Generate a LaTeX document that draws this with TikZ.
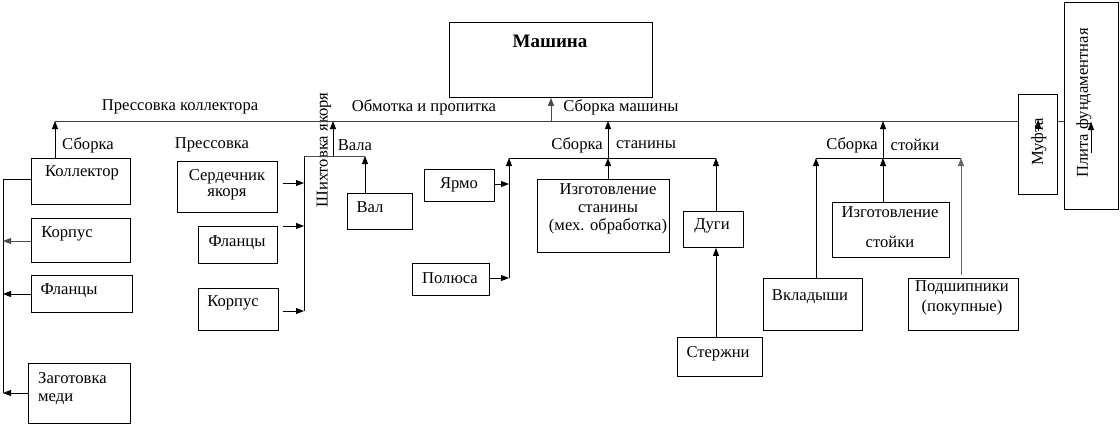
\documentclass[tikz,border=0pt]{standalone}
\usepackage{fontspec}
\setmainfont{Liberation Serif}
\usetikzlibrary{arrows.meta}
\tikzset{
  box/.style={draw, line width=0.9pt},
  txt/.style={inner sep=0pt, font=\fontsize{16.6}{16}\selectfont, align=center},
  conn/.style={line width=0.9pt},
  arr/.style={line width=0.9pt, -{Triangle[length=8pt,width=6pt]}},
}
\begin{document}
\begin{tikzpicture}[x=1pt,y=-1pt]
\useasboundingbox (0,0) rectangle (1120,424);
% boxes
\newcommand{\bx}[5]{\node[box, inner sep=0pt, minimum width=#4-#2, minimum height=#5-#3, anchor=north west] (#1) at (#2,#3) {};}
\bx{mash}{449}{22}{652}{97}
\bx{koll}{31}{158}{130}{204}
\bx{korpA}{31}{218}{130}{262}
\bx{flanA}{31}{275}{132}{312}
\bx{zag}{28}{363}{130}{423}
\bx{serd}{177}{161}{277}{212}
\bx{flanB}{198}{226}{277}{263}
\bx{korpB}{198}{288}{278}{330}
\bx{val}{347}{193}{412}{229}
\bx{yarmo}{424}{169}{494}{201}
\bx{polus}{412}{263}{489}{295}
\bx{izst}{537}{179}{669}{252}
\bx{dugi}{683}{211}{743}{247}
\bx{sterzh}{677}{337}{762}{376}
\bx{izstoy}{832}{202}{949}{257}
\bx{vklad}{763}{278}{862}{330}
\bx{podsh}{908}{278}{1018}{330}
\bx{muft}{1018}{94}{1057}{194}
\bx{plita}{1064}{2}{1118}{209}
% texts in boxes
\node[txt, font=\fontsize{19}{19}\selectfont\bfseries] (tmash) at (550,41) {Машина};
\node[txt] (tkoll) at (82,173) {Коллектор};
\node[txt] (tkorpA) at (67,234) {Корпус};
\node[txt] (tflanA) at (69,291) {Фланцы};
\node[txt, align=left, anchor=west] (tzag) at (38,389) {Заготовка\\[2pt]меди};
\node[txt] (tserd) at (227,185) {Сердечник\\якоря};
\node[txt] (tflanB) at (237,243) {Фланцы};
\node[txt] (tkorpB) at (233,303) {Корпус};
\node[txt] (tval) at (370,207) {Вал};
\node[txt] (tyarmo) at (459,185) {Ярмо};
\node[txt] (tpolus) at (450,278) {Полюса};
\node[txt] (tizst) at (608,209) {Изготовление\\[2pt]станины\\[2pt](мех. обработка)};
\node[txt] (tdugi) at (712,226) {Дуги};
\node[txt] (tsterzh) at (718,354) {Стержни};
\node[txt] (tizstoy) at (890,227) {Изготовление\\[14pt]стойки};
\node[txt] (tvklad) at (810,297) {Вкладыши};
\node[txt] (tpodsh) at (962,298) {Подшипники\\[4pt](покупные)};
\node[txt, rotate=90] (tmuft) at (1039,142) {Муфта};
\node[txt, rotate=90] (tplita) at (1084,103) {Плита фундаментная};
% labels
\node[txt] (lpk) at (180,107) {Прессовка коллектора};
\node[txt] (lop) at (424,107) {Обмотка и пропитка};
\node[txt] (lsm) at (621,107) {Сборка машины};
\node[txt] (lsb) at (88,145) {Сборка};
\node[txt] (lpr) at (212,145) {Прессовка};
\node[txt] (lvala) at (355,145) {Вала};
\node[txt, rotate=90] (lsh) at (324,150) {Шихтовка якоря};
\node[txt] (lsb2) at (577,145) {Сборка};
\node[txt] (lst2) at (646,145) {станины};
\node[txt] (lsb3) at (852,145) {Сборка};
\node[txt] (lst3) at (915,145) {стойки};
% junction coordinates
\coordinate (m0) at (55,121);
\coordinate (m1) at (1018,121);
\coordinate (m2) at (1057,121);
\coordinate (m3) at (1064,121);
\coordinate (mA) at (333,121);
\coordinate (mB) at (551,121);
\coordinate (mC) at (608,121);
\coordinate (mD) at (883,121);
\coordinate (L0) at (3,179);
\coordinate (L1) at (3,241);
\coordinate (L2) at (3,294);
\coordinate (L3) at (3,393);
\coordinate (P0) at (304,156);
\coordinate (P1) at (304,183);
\coordinate (P2) at (304,226);
\coordinate (P3) at (304,311);
\coordinate (P4) at (365,156);
\coordinate (P5) at (333,156);
\coordinate (S0) at (509,158);
\coordinate (S1) at (716,158);
\coordinate (S2) at (608,158);
\coordinate (S3) at (509,184);
\coordinate (S4) at (509,278);
\coordinate (T0) at (816,158);
\coordinate (T1) at (961,158);
\coordinate (T2) at (883,158);
% main line
\draw[conn, black!75] (m0) -- (m1);
\draw[conn, black!75] (m2) -- (m3);
\draw[arr] (koll.north -| m0) -- (m0);
\draw[arr, black!70] (mB) -- (mash.south -| mB);
% collector
\draw[conn] (koll.west |- L0) -- (L0) -- (L3);
\draw[arr, black!70] (korpA.west |- L1) -- (L1);
\draw[arr] (flanA.west |- L2) -- (L2);
\draw[arr] (zag.west |- L3) -- (L3);
% armature
\draw[arr] ([xshift=5pt]serd.east |- P1) -- (P1);
\draw[arr] ([xshift=5pt]flanB.east |- P2) -- (P2);
\draw[arr] ([xshift=4pt]korpB.east |- P3) -- (P3);
\draw[conn] (P3) -- (P0);
\draw[conn, black!70] (P0) -- (P4);
\draw[arr] (val.north -| P4) -- (P4);
\draw[arr] (P5) -- (mA);
% stator
\draw[arr] (S2) -- (mC);
\draw[conn] (S0) -- (S1);
\draw[arr] (S4) -- (S0);
\draw[arr] (yarmo.east |- S3) -- (S3);
\draw[arr] (polus.east |- S4) -- (S4);
\draw[arr] (izst.north -| S2) -- (S2);
\draw[arr] (dugi.north -| S1) -- (S1);
\draw[arr] (sterzh.north -| S1) -- (dugi.south -| S1);
% stand
\draw[arr] (T2) -- (mD);
\draw[conn] (T0) -- (T1);
\draw[arr] (vklad.north -| T0) -- (T0);
\draw[arr] (izstoy.north -| T2) -- (T2);
\draw[arr, black!60] ([yshift=3pt]podsh.north -| T1) -- (T1);
% arrows in muft / plita
\coordinate (U0) at (1038,131);
\coordinate (U1) at (1038,120);
\coordinate (V0) at (1091,153);
\coordinate (V1) at (1091,122);
\draw[arr] (U0) -- (U1);
\draw[arr] (V0) -- (V1);
\end{tikzpicture}
\end{document}
